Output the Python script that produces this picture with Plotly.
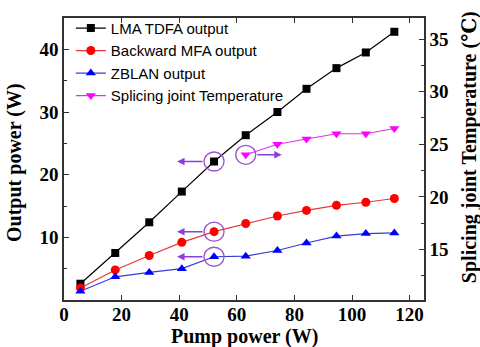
import plotly.graph_objects as go

pump = [5.7, 17.8, 29.6, 40.9, 52.1, 63.1, 74.1, 84.2, 94.6, 104.8, 114.7]
lma = [2.6, 7.5, 12.4, 17.3, 22.1, 26.3, 30.0, 33.7, 37.0, 39.5, 42.8]
mfa = [1.9, 4.8, 7.1, 9.2, 10.9, 12.2, 13.4, 14.3, 15.1, 15.6, 16.2]
zblan = [1.4, 3.7, 4.4, 5.0, 6.9, 7.0, 7.9, 9.1, 10.2, 10.6, 10.7]
temp_pump = pump[5:]
temp = [24.0, 25.0, 25.5, 26.0, 26.0, 26.5]

SERIF = "Liberation Serif, Times New Roman, serif"
SANS = "Liberation Sans, Arial, sans-serif"
PURPLE = "#9b55cc"
ARROW = "#8a3fe0"

fig = go.Figure()
fig.add_trace(go.Scatter(x=pump, y=lma, name="LMA TDFA output", mode="lines+markers",
                         line=dict(color="black", width=1.2),
                         marker=dict(symbol="square", size=8, color="black")))
fig.add_trace(go.Scatter(x=pump, y=mfa, name="Backward MFA output", mode="lines+markers",
                         line=dict(color="#e23a3a", width=1.2),
                         marker=dict(symbol="circle", size=9, color="#ff0000")))
fig.add_trace(go.Scatter(x=pump, y=zblan, name="ZBLAN output", mode="lines+markers",
                         line=dict(color="#3a3ad8", width=1.2),
                         marker=dict(symbol="triangle-up", size=9, color="#0000ff")))
fig.add_trace(go.Scatter(x=temp_pump, y=temp, name="Splicing joint Temperature", mode="lines+markers",
                         yaxis="y2",
                         line=dict(color="#e030e0", width=1.2),
                         marker=dict(symbol="triangle-down", size=9, color="#ff00ff")))

shapes = []
annotations = []
idx = 4
for ys, yref in ((lma, "y"), (mfa, "y"), (zblan, "y")):
    shapes.append(dict(type="circle", xref="x", yref=yref, xsizemode="pixel", ysizemode="pixel",
                       xanchor=pump[idx], yanchor=ys[idx], x0=-10, x1=10, y0=-9.5, y1=9.5,
                       line=dict(color=PURPLE, width=1.3)))
    annotations.append(dict(x=pump[idx], y=ys[idx], xref="x", yref=yref, xshift=-37,
                            ax=27, ay=0, text="", showarrow=True, arrowhead=2,
                            arrowsize=1, arrowwidth=1.5, arrowcolor=ARROW))
shapes.append(dict(type="circle", xref="x", yref="y2", xsizemode="pixel", ysizemode="pixel",
                   xanchor=temp_pump[0], yanchor=temp[0], x0=-10, x1=10, y0=-9.5, y1=9.5,
                   line=dict(color=PURPLE, width=1.3)))
annotations.append(dict(x=temp_pump[0], y=temp[0], xref="x", yref="y2", xshift=36,
                        ax=-26, ay=0, text="", showarrow=True, arrowhead=2,
                        arrowsize=1, arrowwidth=1.5, arrowcolor=ARROW))

titlefont = dict(family=SERIF, size=20, color="black", weight="bold")
annotations.append(dict(text="Output power (W)", xref="paper", yref="paper",
                        x=-0.136, y=0.486, xanchor="center", yanchor="middle",
                        textangle=-90, showarrow=False, font=titlefont))
annotations.append(dict(text="Pump power (W)", xref="paper", yref="paper",
                        x=0.5, y=-0.128, xanchor="center", yanchor="middle",
                        showarrow=False, font=titlefont))
annotations.append(dict(text="Splicing joint Temperature (℃)", xref="paper", yref="paper",
                        x=1.125, y=0.542, xanchor="center", yanchor="middle",
                        textangle=-90, showarrow=False,
                        font=dict(family=SERIF + ", DejaVu Serif", size=20, color="black",
                                  weight="bold")))

tickfont = dict(family=SERIF, size=19, color="black", weight="bold")
axline = dict(showline=True, linecolor="#333333", linewidth=1.5, showgrid=False, zeroline=False)

fig.update_layout(
    width=480, height=347,
    margin=dict(l=64, r=56, t=12, b=47),
    paper_bgcolor="white", plot_bgcolor="white",
    showlegend=True,
    legend=dict(x=0.019, y=1.022, xanchor="left", yanchor="top", bgcolor="rgba(0,0,0,0)",
                font=dict(family=SANS, size=15, color="black"), tracegroupgap=0),
    xaxis=dict(range=[0, 125], tickmode="array", tickvals=[0, 20, 40, 60, 80, 100, 120],
               ticks="inside", ticklen=5, tickwidth=1.3, tickcolor="#333333",
               ticklabelstandoff=-4,
               mirror="ticks", tickfont=tickfont, **axline),
    yaxis=dict(range=[0, 45], tickmode="array", tickvals=[10, 20, 30, 40],
               ticks="inside", ticklen=5, tickwidth=1.3, tickcolor="#333333",
               minor=dict(tickmode="array", tickvals=[5, 15, 25, 35], ticks="inside",
                          ticklen=3, tickcolor="#333333"),
               tickfont=tickfont, **axline),
    yaxis2=dict(range=[10.2, 37], overlaying="y", side="right", tickmode="array",
                tickvals=[15, 20, 25, 30, 35],
                ticks="inside", ticklen=5, tickwidth=1.3, tickcolor="#333333",
                minor=dict(tickmode="array", tickvals=[12.5, 17.5, 22.5, 27.5, 32.5], ticks="inside",
                           ticklen=3, tickcolor="#333333"),
                tickfont=tickfont, **axline),
    shapes=shapes,
    annotations=annotations,
)

fig.write_html("out.html")
